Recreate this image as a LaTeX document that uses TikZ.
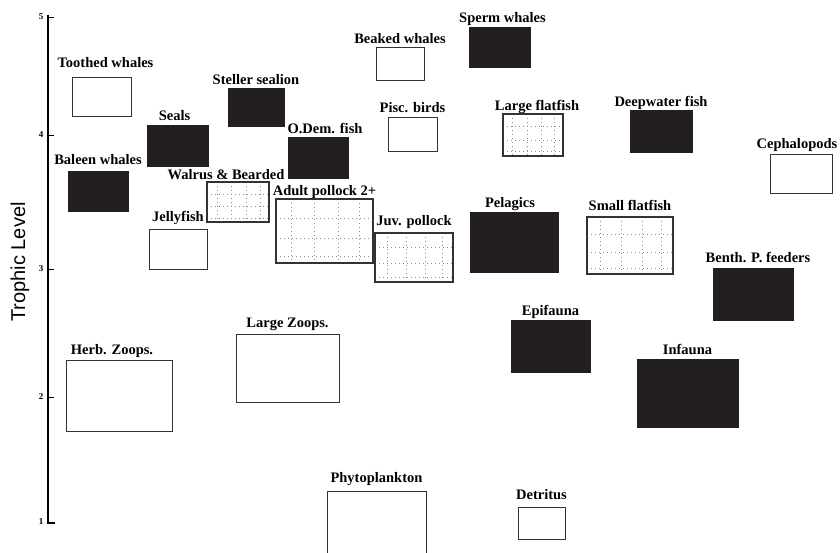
\documentclass[tikz,border=0pt]{standalone}
\usepackage{fontspec}
\setmainfont{Liberation Serif}
\newfontfamily\axisfont{Liberation Sans}
\usetikzlibrary{positioning,calc}
\definecolor{boxfill}{HTML}{231F20}

\begin{document}
\begin{tikzpicture}[x=1pt,y=-1pt,
  grp/.style={draw=black!80,line width=1pt,fill=white,inner sep=0pt},
  blk/.style={grp,draw=boxfill,fill=boxfill},
  stip/.style={grp,line width=1.6pt,path picture={
    \foreach \f in {0.16,0.4,0.64,0.86}
      \draw[black!45,dash pattern=on 1pt off 3pt,line width=0.8pt] ($(path picture bounding box.north west)!\f!(path picture bounding box.north east)$) -- ($(path picture bounding box.south west)!\f!(path picture bounding box.south east)$);
    \foreach \f in {0.3,0.62,0.9}
      \draw[black!45,dash pattern=on 1pt off 3pt,line width=0.8pt] ($(path picture bounding box.north west)!\f!(path picture bounding box.south west)$) -- ($(path picture bounding box.north east)!\f!(path picture bounding box.south east)$);}},
  sz/.style 2 args={minimum width=#1,minimum height=#2},
  tag/.style={font=\fontsize{14.5}{16}\selectfont\bfseries,inner sep=0pt,text depth=0pt},
  ticklbl/.style={font=\fontsize{9}{10}\selectfont\bfseries,inner sep=0pt}]
\useasboundingbox (0,0) rectangle (840,553);
% axis
\draw[line width=1.1pt] (48,15) -- (48,523) -- (55,523);
\foreach \t/\yy in {5/17,4/135,3/269,2/397}
  \draw[line width=0.8pt] (48,\yy) -- (54,\yy);
\foreach \t/\yy in {5/17,4/135,3/269,2/397,1/522}
  \node[ticklbl] (tick\t) at (41,\yy) {\t};
\node[rotate=90,font=\axisfont\fontsize{20}{21}\selectfont] (ylab) at (20,262) {Trophic Level};
% groups
\node[grp,sz={59}{39}] (tw) at (101.5,97.5) {};
\node[blk,sz={56}{38}] (ss) at (256,108) {};
\node[blk,sz={61}{41}] (se) at (177.5,146.5) {};
\node[blk,sz={60}{40}] (bw) at (98,192) {};
\node[stip,sz={62}{40}] (wb) at (238,202) {};
\node[blk,sz={60}{41}] (od) at (318,158.5) {};
\node[grp,sz={48}{33}] (bk) at (400,64.5) {};
\node[blk,sz={61}{40}] (sw) at (499.5,48) {};
\node[grp,sz={49}{34}] (pb) at (412.5,135) {};
\node[stip,sz={60}{42}] (lf) at (533,135) {};
\node[blk,sz={62}{42}] (dw) at (661,132) {};
\node[grp,sz={62}{39}] (ce) at (801,174.5) {};
\node[stip,sz={97}{64}] (ap) at (324.5,231) {};
\node[stip,sz={78}{49}] (jp) at (414,257.5) {};
\node[grp,sz={58}{39}] (jf) at (178,249.5) {};
\node[blk,sz={88}{59}] (pe) at (514,242.5) {};
\node[stip,sz={86}{57}] (sf) at (630,245.5) {};
\node[blk,sz={80}{52}] (bp) at (753,294) {};
\node[blk,sz={79}{52}] (ep) at (550.5,346) {};
\node[blk,sz={101}{68}] (inf) at (687.5,393) {};
\node[grp,sz={106}{71}] (hz) at (119,395.5) {};
\node[grp,sz={103}{68}] (lz) at (287.5,368) {};
\node[grp,sz={99}{62}] (ph) at (376.5,522) {};
\node[grp,sz={47}{32}] (de) at (541.5,523) {};
% labels
\node[tag,above=10pt of tw,xshift=4pt] (twl) {Toothed whales};
\node[tag,above=4pt of ss] (ssl) {Steller sealion};
\node[tag,above=5pt of se,xshift=-3pt] (sel) {Seals};
\node[tag,above=7pt of bw] (bwl) {Baleen whales};
\node[tag,above=1pt of wb,xshift=-12pt] (wbl) {Walrus \& Bearded};
\node[tag,above=4pt of od,xshift=7pt] (odl) {O.Dem. fish};
\node[tag,above=4pt of bk] (bkl) {Beaked whales};
\node[tag,above=5pt of sw,xshift=3pt] (swl) {Sperm whales};
\node[tag,above=5pt of pb] (pbl) {Pisc. birds};
\node[tag,above=2pt of lf,xshift=4pt] (lfl) {Large flatfish};
\node[tag,above=4pt of dw] (dwl) {Deepwater fish};
\node[tag,above=6pt of ce,xshift=-4pt] (cel) {Cephalopods};
\node[tag,above=2pt of ap] (apl) {Adult pollock 2+};
\node[tag,above=6pt of jp] (jpl) {Juv. pollock};
\node[tag,above=8pt of jf] (jfl) {Jellyfish};
\node[tag,above=5pt of pe,xshift=-4pt] (pel) {Pelagics};
\node[tag,above=5pt of sf] (sfl) {Small flatfish};
\node[tag,above=5pt of bp,xshift=5pt] (bpl) {Benth. P. feeders};
\node[tag,above=4pt of ep] (epl) {Epifauna};
\node[tag,above=4pt of inf] (infl) {Infauna};
\node[tag,above=5pt of hz,xshift=-7pt] (hzl) {Herb. Zoops.};
\node[tag,above=6pt of lz] (lzl) {Large Zoops.};
\node[tag,above=8pt of ph] (phl) {Phytoplankton};
\node[tag,above=7pt of de] (del) {Detritus};
\end{tikzpicture}
\end{document}
